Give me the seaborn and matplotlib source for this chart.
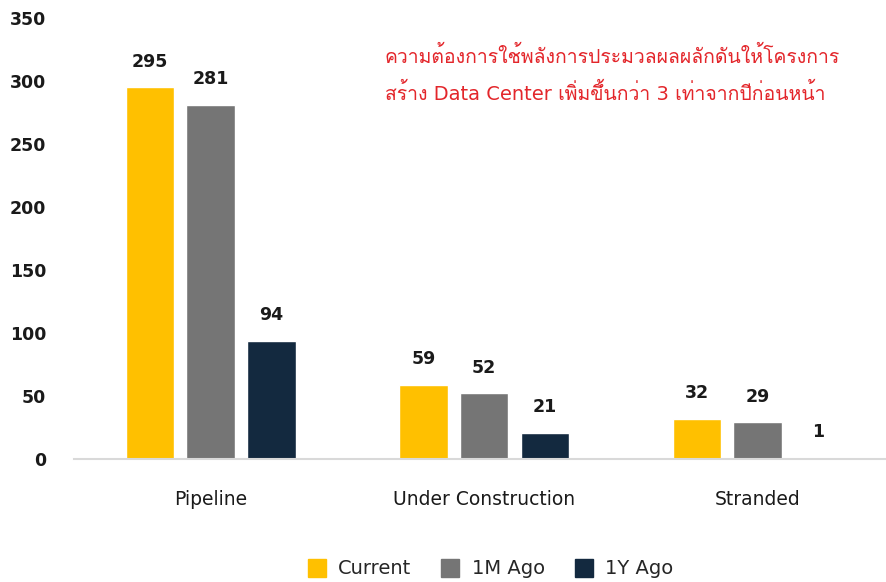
import numpy as np
import pandas as pd
import matplotlib
matplotlib.use('Agg')
import matplotlib.pyplot as plt
import seaborn as sns
from matplotlib import font_manager
from matplotlib.ft2font import FT2Font
from matplotlib.lines import Line2D

# Data
kategori = ['Pipeline', 'Under Construction', 'Stranded']
periode = ['Current', '1M Ago', '1Y Ago']
current = [295, 59, 32]
satu_bulan = [281, 52, 29]
satu_tahun = [94, 21, 1]
warna = ['#FFC000', '#757575', '#13293F']

judul = ('ความต้องการใช้พลังการประมวลผลผลักดันให้โครงการ\n'
         'สร้าง Data Center เพิ่มขึ้นกว่า 3 เท่าจากปีก่อนหน้า')

df = pd.DataFrame({
    'kategori': kategori * 3,
    'periode': np.repeat(periode, 3),
    'nilai': current + satu_bulan + satu_tahun,
})

sns.set_theme(style='white')
plt.rcParams['font.family'] = ['DejaVu Sans']

# cari font yang punya huruf Thai
font_thai = None
for f in font_manager.fontManager.ttflist:
    try:
        if 0x0E01 in FT2Font(f.fname).get_charmap():
            font_thai = f.name
            break
    except Exception:
        pass
keluarga_judul = ['DejaVu Sans'] + ([font_thai] if font_thai else [])

fig = plt.figure(figsize=(8.86, 5.82), dpi=100)
ax = fig.add_axes([74 / 886, 1 - 459 / 582, 1 - 74 / 886, (459 - 18) / 582])

sns.barplot(data=df, x='kategori', y='nilai', hue='periode', order=kategori,
            hue_order=periode, palette=warna, width=0.666, gap=0.2,
            legend=False, ax=ax, saturation=1)

for c in ax.containers:
    ax.bar_label(c, padding=12, fontsize=12.5, fontweight='bold', color='#1A1A1A')

ax.set_xlim(-0.5, 2.47)
ax.set_ylim(0, 350)
ax.set_yticks(range(0, 351, 50))
ax.set_xlabel('')
ax.set_ylabel('')
ax.tick_params(axis='y', labelsize=12.5, length=0, pad=20)
ax.tick_params(axis='x', labelsize=13.5, length=0, pad=22)
for lbl in ax.get_yticklabels():
    lbl.set_fontweight('bold')
    lbl.set_color('#1A1A1A')
for lbl in ax.get_xticklabels():
    lbl.set_color('#1A1A1A')

sns.despine(ax=ax, left=True, right=True, top=True)
ax.spines['bottom'].set_color('#D9D9D9')
ax.spines['bottom'].set_linewidth(1.5)

fig.text(385 / 886, 1 - 75 / 582, judul, color='#E3262B', fontsize=14,
         family=keluarga_judul, va='center', ha='left', linespacing=1.95)

handles = [Line2D([], [], marker='s', linestyle='', markersize=13, color=w)
           for w in warna]
fig.legend(handles, periode, loc='center', bbox_to_anchor=(0.548, 1 - 569 / 582),
           ncol=3, frameon=False, fontsize=14, handletextpad=0.1,
           columnspacing=1.0)

fig.savefig('out.png', dpi=100)
